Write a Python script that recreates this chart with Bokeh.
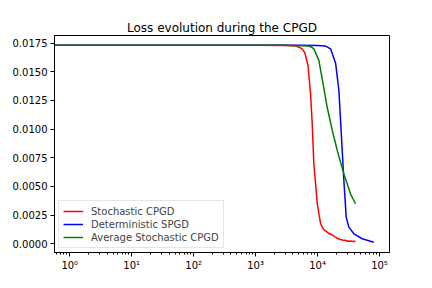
from bokeh.plotting import figure
from bokeh.models import Range1d, FixedTicker, NumeralTickFormatter, Legend, LegendItem
from bokeh.embed import file_html
from bokeh.resources import INLINE

title = "Loss evolution during the CPGD"

red_x = [0.5, 1000, 3000, 4500, 5500, 6200, 7000, 7700, 8200, 8700, 9300, 9900, 10600, 11200,
         12000, 13000, 13600, 14300, 15000, 15500, 16200, 17000, 18000, 19000, 20000, 20800, 22000,
         23000, 24500, 26000, 27500, 29000, 30500, 32000, 33500, 35000, 36500, 38500, 40000, 41000]
red_y = [0.01731, 0.01731, 0.01730, 0.01725, 0.01705, 0.01670, 0.01560, 0.01311, 0.01050, 0.00700,
         0.00520, 0.00351, 0.00250, 0.00177, 0.00140, 0.00115, 0.00112, 0.00101, 0.00094, 0.00085,
         0.00088, 0.00078, 0.00072, 0.00060, 0.00056, 0.00046, 0.00044, 0.00038, 0.00036, 0.00030,
         0.00031, 0.00028, 0.00022, 0.00025, 0.00021, 0.00026, 0.00020, 0.00023, 0.00019, 0.00020]

blue_x = [0.5, 5000, 10000, 13400, 16300, 19600, 22100, 24000, 26600, 29000, 32000, 38600, 52600, 81000]
blue_y = [0.01731, 0.01731, 0.01730, 0.01725, 0.01700, 0.01572, 0.01337, 0.00988, 0.00552, 0.00232,
          0.00145, 0.00087, 0.00044, 0.00014]

green_x = [0.5, 3000, 7200, 8000, 8700, 10500, 11900, 14300, 17300, 20800, 26600, 34000, 41000]
green_y = [0.01731, 0.01731, 0.01725, 0.01715, 0.01700, 0.01600, 0.01436, 0.01191, 0.00988, 0.00814,
           0.00610, 0.00436, 0.00349]

labels = ["Stochastic CPGD", "Deterministic SPGD", "Average Stochastic CPGD"]
colors = ["#ff0000", "#0000ff", "#008000"]

y_ticks = [0.0, 0.0025, 0.005, 0.0075, 0.01, 0.0125, 0.015, 0.0175]
x_ticks = [1, 10, 100, 1000, 10000, 100000]
x_tick_labels = ["10⁰", "10¹", "10²", "10³", "10⁴", "10⁵"]

FONT = "DejaVu Sans"

p = figure(width=424, height=280, x_axis_type="log", output_backend="svg",
           toolbar_location=None, title=title,
           x_range=Range1d(0.567, 145000), y_range=Range1d(-0.00076, 0.01817),
           min_border_left=54, min_border_right=35, min_border_top=35, min_border_bottom=28)

p.title.text_font = FONT
p.title.text_font_size = "12px"
p.title.text_font_style = "normal"
p.title.align = "center"
p.title.text_color = "black"
p.title.vertical_align = "bottom"
p.title.standoff = 2
p.title.text_line_height = 0.6

rs = []
for xs, ys, c in zip([red_x, blue_x, green_x], [red_y, blue_y, green_y], colors):
    rs.append(p.line(xs, ys, line_color=c, line_width=1.5))

p.xgrid.visible = False
p.ygrid.visible = False
p.outline_line_color = "black"
p.outline_line_width = 1
p.background_fill_color = "white"
p.border_fill_color = "white"

p.xaxis.ticker.desired_num_ticks = 6
p.xaxis.major_label_overrides = {t: l for t, l in zip(x_ticks, x_tick_labels)}
p.yaxis.ticker = FixedTicker(ticks=y_ticks)
p.yaxis.formatter = NumeralTickFormatter(format="0.0000")

for ax in [p.xaxis[0], p.yaxis[0]]:
    ax.major_label_text_font = FONT
    ax.major_label_text_font_size = "10px"
    ax.major_label_text_color = "black"
    ax.axis_line_color = "black"
    ax.major_tick_line_color = "black"
    ax.minor_tick_line_color = "black"
    ax.major_tick_in = 0
    ax.major_tick_out = 4
    ax.minor_tick_in = 0
    ax.minor_tick_out = 2
    ax.major_label_standoff = 3

legend = Legend(items=[LegendItem(label=l, renderers=[r]) for l, r in zip(labels, rs)],
                location="bottom_left")
legend.label_text_font = FONT
legend.label_text_font_size = "10px"
legend.glyph_width = 20
legend.glyph_height = 12
legend.spacing = 1
legend.padding = 4
legend.margin = 4
legend.label_standoff = 8
legend.border_line_color = "#cccccc"
legend.border_line_width = 1
legend.label_height = 12
p.add_layout(legend)

open("out.html", "w").write(file_html(p, INLINE))
